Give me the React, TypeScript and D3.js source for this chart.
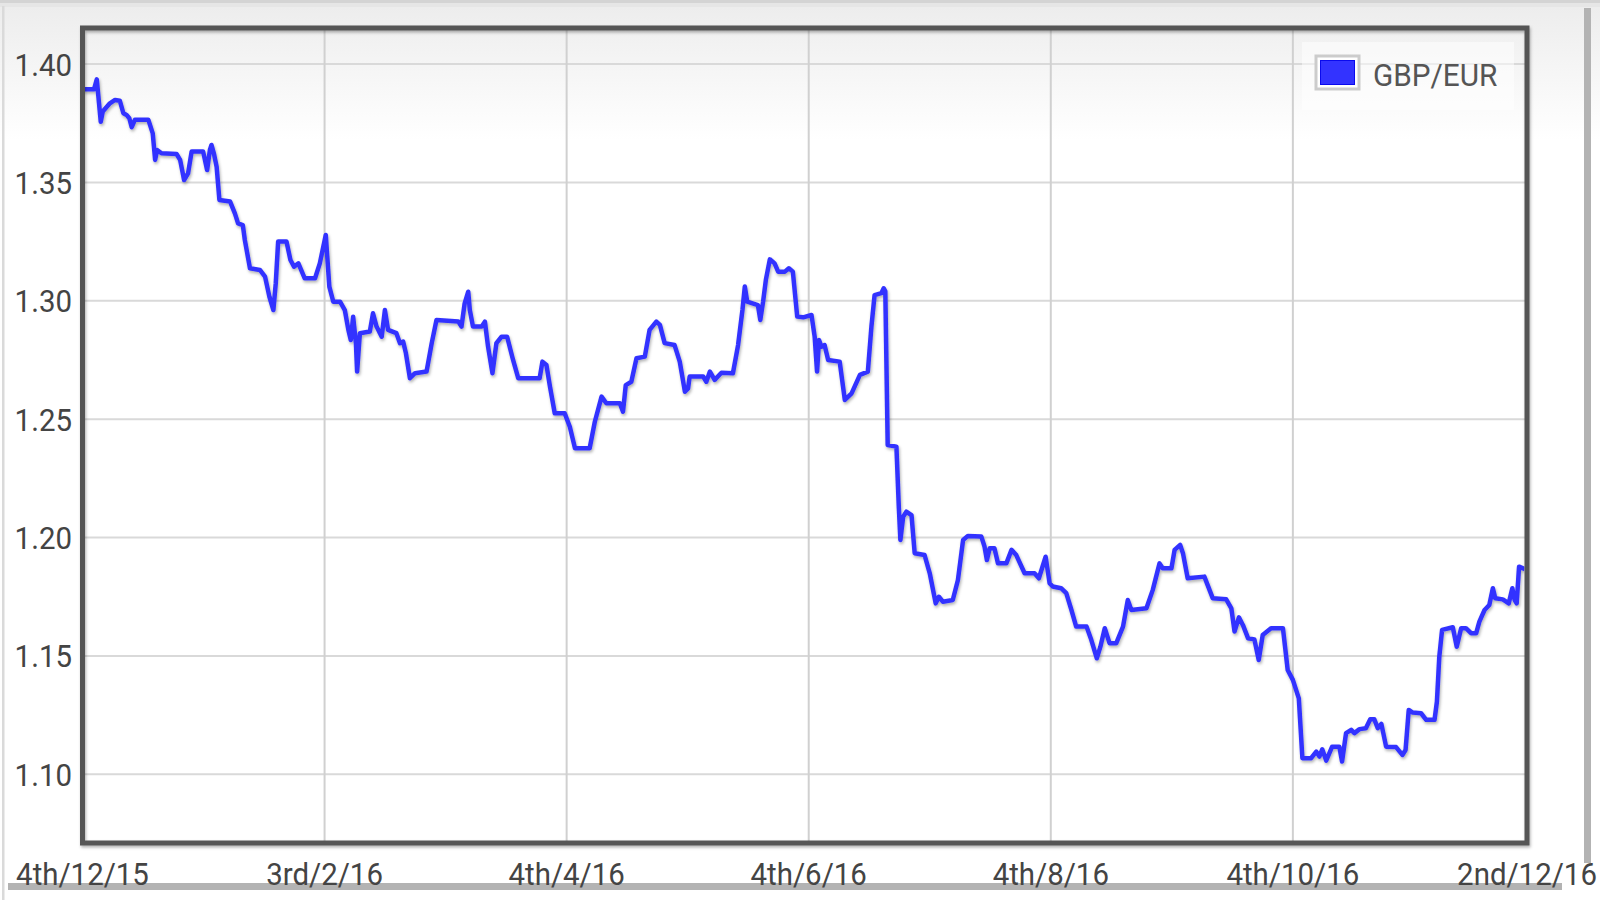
import React from "react";
import * as d3 from "d3";

// Day offsets from 4 Dec 2015 and GBP/EUR rates
const days = [
  0, 2.9, 3.6, 4.6, 5.1, 6.9, 8.2, 9.4, 10.3, 11.1, 11.8, 12.4, 13.2, 16.6, 17.7, 18.3, 18.8, 19.9, 23.7, 24.6,
  25.6, 26.6, 27.5, 30.4, 31.4, 32.1, 32.5, 33.1, 33.8, 34.5, 37.2, 38.4, 39.2, 40.4, 40.9, 42.2, 44.7, 46.0, 47.1, 48.1,
  48.7, 49.3, 51.4, 52.4, 53.3, 54.4, 56.0, 58.6, 59.8, 61.3, 62.2, 63.2, 64.9, 66.1, 67.0, 67.6, 68.2, 68.9, 69.2, 69.9,
  72.4, 73.2, 74.1, 75.4, 76.2, 77.0, 79.1, 80.0, 80.8, 81.5, 82.5, 83.8, 86.7, 88.0, 89.2, 94.7, 95.5, 96.3, 97.2, 97.6,
  98.4, 100.6, 101.4, 102.2, 103.3, 104.3, 105.6, 107.0, 108.5, 109.8, 115.2, 115.9, 116.9, 117.8, 119.0, 121.5, 122.8, 124.1, 127.8, 129.1,
  130.8, 132.0, 135.4, 136.2, 136.9, 138.3, 139.6, 141.7, 142.9, 144.6, 145.5, 146.7, 149.2, 150.5, 151.8, 152.6, 153.0, 156.4, 157.2, 158.1,
  159.3, 161.0, 163.9, 165.2, 166.3, 166.9, 167.5, 170.2, 170.8, 171.5, 172.2, 173.2, 174.4, 175.3, 177.0, 178.0, 179.0, 180.1, 181.6, 183.7,
  184.5, 185.1, 185.6, 186.2, 187.0, 187.9, 190.8, 192.1, 193.8, 195.9, 197.9, 198.8, 199.6, 201.3, 201.9, 202.3, 202.9, 205.1, 205.7, 206.1,
  206.8, 207.6, 208.9, 209.7, 212.2, 213.5, 215.0, 215.8, 216.8, 219.3, 220.6, 221.9, 223.1, 226.5, 227.3, 227.9, 228.6, 229.8, 230.7, 232.8,
  234.1, 235.3, 237.4, 239.9, 241.0, 242.7, 243.7, 244.5, 246.6, 247.9, 249.2, 250.4, 253.0, 254.2, 255.6, 256.5, 257.6, 258.8, 260.5, 262.2,
  263.4, 264.3, 268.1, 269.7, 271.4, 272.2, 274.4, 275.2, 276.6, 277.3, 278.5, 282.7, 284.8, 288.2, 289.5, 290.3, 291.4, 292.4, 293.7, 295.3,
  296.4, 297.4, 299.5, 302.5, 303.7, 305.0, 306.5, 307.4, 309.6, 310.9, 311.7, 312.4, 313.4, 314.9, 316.7, 317.4, 318.4, 319.7, 320.5, 321.8,
  323.4, 324.5, 325.5, 326.4, 327.3, 328.5, 331.0, 332.6, 333.4, 334.2, 335.2, 337.3, 338.6, 340.7, 341.3, 341.9, 342.6, 345.3, 346.3, 347.4,
  348.6, 349.9, 351.2, 352.0, 353.3, 354.5, 355.4, 356.0, 357.9, 359.4, 360.3, 360.9, 361.4, 362.0, 363.0, 363.5,
];

const rates = [
  1.3893, 1.3893, 1.3935, 1.3756, 1.3799, 1.3834, 1.3848, 1.3845, 1.3792, 1.3785, 1.3771, 1.3733, 1.3764, 1.3764, 1.3707, 1.3595, 1.3637, 1.3623, 1.3620, 1.3595,
  1.3510, 1.3538, 1.3630, 1.3630, 1.3552, 1.3637, 1.3658, 1.3623, 1.3566, 1.3426, 1.3419, 1.3369, 1.3327, 1.3320, 1.3257, 1.3137, 1.3130, 1.3102, 1.3017, 1.2961,
  1.3074, 1.3250, 1.3250, 1.3172, 1.3144, 1.3158, 1.3095, 1.3095, 1.3158, 1.3278, 1.3060, 1.2996, 1.2996, 1.2961, 1.2877, 1.2834, 1.2933, 1.2821, 1.2701, 1.2863,
  1.2870, 1.2947, 1.2891, 1.2848, 1.2961, 1.2877, 1.2863, 1.2821, 1.2828, 1.2778, 1.2673, 1.2694, 1.2701, 1.2821, 1.2919, 1.2912, 1.2891, 1.2989, 1.3038, 1.2961,
  1.2891, 1.2891, 1.2912, 1.2806, 1.2694, 1.2821, 1.2848, 1.2848, 1.2750, 1.2673, 1.2673, 1.2743, 1.2729, 1.2637, 1.2525, 1.2525, 1.2468, 1.2377, 1.2377, 1.2489,
  1.2595, 1.2567, 1.2567, 1.2532, 1.2644, 1.2658, 1.2757, 1.2764, 1.2877, 1.2912, 1.2898, 1.2821, 1.2813, 1.2743, 1.2616, 1.2630, 1.2680, 1.2680, 1.2658, 1.2701,
  1.2666, 1.2696, 1.2694, 1.2813, 1.2961, 1.3060, 1.2996, 1.2982, 1.2919, 1.2996, 1.3088, 1.3175, 1.3158, 1.3123, 1.3123, 1.3137, 1.3123, 1.2933, 1.2930, 1.2940,
  1.2848, 1.2701, 1.2834, 1.2806, 1.2813, 1.2750, 1.2743, 1.2581, 1.2609, 1.2687, 1.2701, 1.2891, 1.3024, 1.3032, 1.3053, 1.3040, 1.2391, 1.2384, 1.2130, 1.1990,
  1.2088, 1.2109, 1.2095, 1.1934, 1.1926, 1.1849, 1.1722, 1.1750, 1.1729, 1.1736, 1.1821, 1.1990, 1.2007, 1.2004, 1.1962, 1.1905, 1.1955, 1.1955, 1.1891, 1.1891,
  1.1948, 1.1926, 1.1849, 1.1849, 1.1828, 1.1919, 1.1807, 1.1793, 1.1786, 1.1765, 1.1694, 1.1624, 1.1624, 1.1568, 1.1490, 1.1539, 1.1617, 1.1554, 1.1554, 1.1624,
  1.1736, 1.1694, 1.1701, 1.1779, 1.1891, 1.1870, 1.1870, 1.1948, 1.1969, 1.1934, 1.1828, 1.1835, 1.1744, 1.1739, 1.1701, 1.1603, 1.1663, 1.1631, 1.1575, 1.1570,
  1.1483, 1.1588, 1.1617, 1.1617, 1.1441, 1.1399, 1.1321, 1.1068, 1.1068, 1.1096, 1.1075, 1.1106, 1.1058, 1.1117, 1.1117, 1.1054, 1.1174, 1.1188, 1.1174, 1.1191,
  1.1195, 1.1233, 1.1233, 1.1195, 1.1213, 1.1117, 1.1115, 1.1082, 1.1103, 1.1272, 1.1261, 1.1258, 1.1230, 1.1230, 1.1307, 1.1497, 1.1610, 1.1621, 1.1539, 1.1617,
  1.1617, 1.1596, 1.1596, 1.1645, 1.1694, 1.1715, 1.1786, 1.1744, 1.1739, 1.1722, 1.1786, 1.1736, 1.1722, 1.1877, 1.1870, 1.1866,
];

const tickDays = [0, 61, 122, 183, 244, 305, 364];
const tickLabels = ["4th/12/15", "3rd/2/16", "4th/4/16", "4th/6/16", "4th/8/16", "4th/10/16", "2nd/12/16"];
const yTicks = [1.1, 1.15, 1.2, 1.25, 1.3, 1.35, 1.4];
const seriesName = "GBP/EUR";

const W = 1600;
const H = 900;
const left = 82.5;
const right = 1527;
const top = 28;
const bottom = 843;
const squeeze = 0.92;

export default function App() {
  const x = d3.scaleLinear().domain([0, 364]).range([left, right]);
  const y = d3.scaleLinear().domain([1.071, 1.4152]).range([bottom, top]);
  const pts = days.map((d, i) => [d, rates[i]] as [number, number]);
  const line = d3
    .line<[number, number]>()
    .x((d) => x(d[0]))
    .y((d) => y(d[1]));
  const font = "Roboto, 'Noto Sans', sans-serif";

  return (
    <div style={{ position: "fixed", left: 0, top: 0, width: W, height: H, background: "#fff" }}>
      <svg width={W} height={H} viewBox={`0 0 ${W} ${H}`} style={{ display: "block" }}>
        <defs>
          <linearGradient id="bg" x1="0" y1="0" x2="0" y2="1">
            <stop offset="0" stopColor="#ececec" />
            <stop offset="1" stopColor="#ffffff" />
          </linearGradient>
          <filter id="shadow" x="-5%" y="-5%" width="110%" height="110%">
            <feDropShadow dx="1" dy="2" stdDeviation="1.5" floodColor="#000" floodOpacity="0.3" />
          </filter>
          <clipPath id="plot">
            <rect x={left + 2.5} y={top + 2.5} width={right - left - 5} height={bottom - top - 5} />
          </clipPath>
        </defs>
        {/* page background */}
        <rect x={0} y={0} width={W} height={H} fill="#fff" />
        <rect x={0} y={0} width={W} height={140} fill="url(#bg)" />
        <rect x={0} y={0} width={W} height={3} fill="#d4d4d4" />
        <rect x={0} y={3} width={W} height={4} fill="#e6e6e6" />
        <rect x={2} y={6} width={2.5} height={H - 6} fill="#dadada" />

        {/* grid */}
        {yTicks.map((t) => (
          <line key={"gy" + t} x1={left} x2={right} y1={y(t)} y2={y(t)} stroke="#d9d9d9" strokeWidth={2} />
        ))}
        {tickDays.slice(1, -1).map((t) => (
          <line key={"gx" + t} x1={x(t)} x2={x(t)} y1={top} y2={bottom} stroke="#d0d0d0" strokeWidth={2} />
        ))}

        {/* legend */}
        <rect x={1302} y={42} width={212} height={68} fill="#fff" opacity={0.5} />
        <rect x={1316} y={56} width={43} height={33} fill="#fff" stroke="#cccccc" strokeWidth={3} />
        <rect x={1320.5} y={60.5} width={34} height={24} fill="#3333ff" stroke="#0a0aee" strokeWidth={1} />
        <text
          transform={`translate(1373,86) scale(0.96,1)`}
          fontFamily={font}
          fontSize={31}
          fill="#555"
        >
          {seriesName}
        </text>

        {/* series */}
        <g clipPath="url(#plot)">
          <path
            d={line(pts) || ""}
            fill="none"
            stroke="#3333ff"
            strokeWidth={4.5}
            strokeLinejoin="round"
            filter="url(#shadow)"
          />
        </g>

        {/* frame */}
        <rect
          x={left}
          y={top}
          width={right - left}
          height={bottom - top}
          fill="none"
          stroke="#555"
          strokeWidth={5}
          filter="url(#shadow)"
        />

        {/* side bars */}
        <rect x={1584} y={8} width={7} height={855} fill="#b3b3b3" />
        <rect x={8} y={883} width={1554} height={7} fill="#b3b3b3" />

        {/* y labels */}
        {yTicks.map((t) => (
          <text
            key={"yl" + t}
            transform={`translate(72,${y(t)}) scale(${squeeze},1)`}
            dy="0.36em"
            textAnchor="end"
            fontFamily={font}
            fontSize={32}
            fill="#444"
          >
            {t.toFixed(2)}
          </text>
        ))}

        {/* x labels */}
        {tickDays.map((t, i) => (
          <text
            key={"xl" + t}
            transform={`translate(${x(t)},885) scale(${squeeze},1)`}
            textAnchor="middle"
            fontFamily={font}
            fontSize={32}
            fill="#444"
          >
            {tickLabels[i]}
          </text>
        ))}
      </svg>
    </div>
  );
}
